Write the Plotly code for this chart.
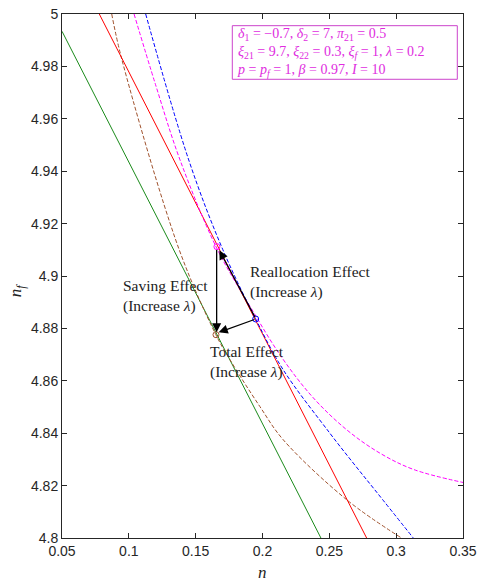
import plotly.graph_objects as go

# ---- data ----
green_n = [0.05, 0.198, 0.2437]
green_nf = [4.9934, 4.8457, 4.80]

red_n = [0.0779, 0.1383, 0.2637, 0.2779]
red_nf = [5.00, 4.9396, 4.8142, 4.80]

blue_n = [0.1126, 0.1448, 0.1702, 0.1949, 0.2155, 0.2504, 0.2679, 0.2854, 0.3128]
blue_nf = [5.00, 4.9443, 4.9102, 4.8836, 4.8642, 4.8400, 4.8286, 4.8175, 4.80]

mag_n = [0.1039, 0.12, 0.1383, 0.1657, 0.19, 0.2143, 0.238, 0.263, 0.2878, 0.3128, 0.35]
mag_nf = [5.00, 4.973, 4.9443, 4.9107, 4.889, 4.869, 4.8535, 4.8413, 4.8324, 4.8262, 4.8212]

brown_n = [0.0872, 0.0947, 0.1377, 0.165, 0.1757, 0.198, 0.2155, 0.2637, 0.304]
brown_nf = [5.00, 4.9828, 4.9100, 4.8777, 4.8680, 4.8502, 4.8375, 4.8143, 4.80]

pt_mag = (0.1659, 4.9112)
pt_blue = (0.1949, 4.8836)
pt_brown = (0.1652, 4.8776)

x_ticks = [0.05, 0.1, 0.15, 0.2, 0.25, 0.3, 0.35]
x_ticklabels = ["0.05", "0.1", "0.15", "0.2", "0.25", "0.3", "0.35"]
y_ticks = [4.8, 4.82, 4.84, 4.86, 4.88, 4.9, 4.92, 4.94, 4.96, 4.98, 5.0]
y_ticklabels = ["4.8", "4.82", "4.84", "4.86", "4.88", "4.9", "4.92", "4.94", "4.96", "4.98", "5"]

params = [
    "<i>δ</i><sub>1</sub> = −0.7, <i>δ</i><sub>2</sub> = 7, <i>π</i><sub>21</sub> = 0.5",
    "<i>ξ</i><sub>21</sub> = 9.7, <i>ξ</i><sub>22</sub> = 0.3, <i>ξ</i><sub><i>f</i></sub> = 1, <i>λ</i> = 0.2",
    "<i>p</i> = <i>p</i><sub><i>f</i></sub> = 1, <i>β</i> = 0.97, <i>I</i> = 10",
]

SERIF = "Liberation Serif, DejaVu Serif, serif"
SANS = "Liberation Sans, Arial, sans-serif"
MAG = "#e02ce0"

fig = go.Figure()
fig.add_trace(go.Scatter(x=green_n, y=green_nf, mode="lines",
                         line=dict(color="#1a8a1a", width=1)))
fig.add_trace(go.Scatter(x=brown_n, y=brown_nf, mode="lines", line_shape="spline",
                         line=dict(color="#a0522d", width=1, dash="4px,2px")))
fig.add_trace(go.Scatter(x=red_n, y=red_nf, mode="lines",
                         line=dict(color="#ff0000", width=1)))
fig.add_trace(go.Scatter(x=mag_n, y=mag_nf, mode="lines", line_shape="spline",
                         line=dict(color="#ff00ff", width=1, dash="4px,2px")))
fig.add_trace(go.Scatter(x=blue_n, y=blue_nf, mode="lines", line_shape="spline",
                         line=dict(color="#0000ff", width=1, dash="4px,2px")))

for (px, py), c in [(pt_mag, "#ff00ff"), (pt_blue, "#0000ff"), (pt_brown, "#a0522d")]:
    fig.add_trace(go.Scatter(x=[px], y=[py], mode="markers",
                             marker=dict(symbol="circle-open", size=6, color=c, line=dict(width=1))))

def arrow(tail, head):
    fig.add_annotation(x=head[0], y=head[1], ax=tail[0], ay=tail[1],
                       xref="x", yref="y", axref="x", ayref="y", text="",
                       showarrow=True, arrowhead=2, arrowsize=1.4, arrowwidth=1.3,
                       arrowcolor="black", standoff=0, startstandoff=0)

arrow((0.1657, 4.9105), (0.1657, 4.8785))   # saving
arrow((0.1951, 4.8836), (0.1677, 4.9098))   # reallocation
arrow((0.1951, 4.8836), (0.1672, 4.8785))   # total

def label(x, y, lines):
    fig.add_annotation(x=x, y=y, xref="paper", yref="paper", xanchor="left", yanchor="middle",
                       align="left", showarrow=False, text="<br>".join(lines),
                       font=dict(family=SERIF, size=15.5, color="#222222"))

label(0.148, 0.4618, ["Saving Effect", "(Increase <i>λ</i>)"])
label(0.465, 0.4885, ["Reallocation Effect", "(Increase <i>λ</i>)"])
label(0.363, 0.3365, ["Total Effect", "(Increase <i>λ</i>)"])

# parameter box (fixed-size frame like the reference text box)
fig.add_shape(type="rect", xref="paper", yref="paper",
              x0=0.4247, x1=0.9858, y0=0.8754, y1=0.9777,
              line=dict(color="#cc44cc", width=1), fillcolor="white", layer="above")
fig.add_annotation(x=0.431, y=0.9265, xref="paper", yref="paper", xanchor="left", yanchor="middle",
                   align="left", showarrow=False, text="<br>".join(params),
                   font=dict(family=SERIF, size=14, color=MAG))

fig.add_annotation(x=0.5, y=-0.065, xref="paper", yref="paper", showarrow=False,
                   text="<i>n</i>", font=dict(family=SERIF, size=17, color="#222222"),
                   xanchor="center", yanchor="middle")
fig.add_annotation(x=-0.112, y=0.473, xref="paper", yref="paper", showarrow=False,
                   text="<i>n<sub>f</sub></i>", textangle=-90,
                   font=dict(family=SERIF, size=17, color="#222222"),
                   xanchor="center", yanchor="middle")

axis_common = dict(showgrid=False, zeroline=False, showline=True, linecolor="#262626",
                   linewidth=1, mirror="ticks", ticks="inside", ticklen=5, tickwidth=1,
                   tickcolor="#262626", automargin=False, ticklabeloverflow="allow",
                   tickfont=dict(family=SANS, size=14, color="#262626"))

fig.update_xaxes(range=[0.05, 0.35], tickvals=x_ticks, ticktext=x_ticklabels, **axis_common)
fig.update_yaxes(range=[4.8, 5.0], tickvals=y_ticks, ticktext=y_ticklabels, **axis_common)

fig.update_layout(width=478, height=582, margin=dict(l=62, r=15, t=14, b=44),
                  plot_bgcolor="white", paper_bgcolor="white", showlegend=False)

# remove the default page margin so the figure fills the window exactly; no modebar
fig.write_html("out.html", config={"displayModeBar": False},
               post_script="document.body.style.margin='0';document.body.style.overflow='hidden';")
